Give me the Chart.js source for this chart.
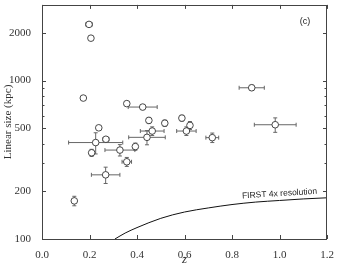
<!DOCTYPE html>
<html>
<head>
<meta charset="utf-8">
<script src="https://cdn.jsdelivr.net/npm/chart.js@4/dist/chart.umd.min.js"></script>
<style>
  html, body { margin: 0; padding: 0; background: #fff; }
  canvas { display: block; }
</style>
</head>
<body>
<canvas id="sizeChart" width="338" height="270"></canvas>
<script>
// Sources: redshift, linear size (kpc) and their errors
const redshift = [0.198, 0.206, 0.174, 0.357, 0.424, 0.239, 0.450, 0.517, 0.464, 0.883, 0.982, 0.589,
                  0.623, 0.608, 0.717, 0.226, 0.269, 0.209, 0.328, 0.393, 0.357, 0.268, 0.136, 0.442];
const linearSize = [2260, 1850, 775, 715, 680, 503, 560, 538, 480, 900, 526, 579,
                    521, 480, 436, 406, 426, 350, 364, 383, 307, 254, 174, 438];
const redshiftErr = [0.014, 0, 0, 0, 0.061, 0, 0, 0, 0.05, 0.053, 0.088, 0,
                     0, 0.041, 0.027, 0.114, 0.013, 0.008, 0.063, 0, 0.02, 0.06, 0, 0.077];
const sizeErr = [0, 0, 0, 0, 25, 0, 25, 25, 30, 35, 55, 25,
                 30, 30, 30, 62, 0, 18, 30, 20, 20, 30, 12, 45];

// FIRST 4x resolution limit curve
const limitZ = [0.307, 0.35, 0.4, 0.5, 0.6, 0.7, 0.8, 0.9, 1.0, 1.1, 1.2];
const limitSize = [100, 109, 118, 135, 148, 157, 165, 171, 175, 179, 182];

// Axis ticks
const xTicks = [0, 0.2, 0.4, 0.6, 0.8, 1.0, 1.2];
const yTicks = [100, 200, 300, 400, 500, 600, 700, 800, 900, 1000, 2000, 3000];
const yLabelled = [100, 200, 500, 1000, 2000];

const serif = "'Liberation Serif', 'DejaVu Serif', serif";
const sans = "'Liberation Sans', 'DejaVu Sans', sans-serif";

// error bars under the points
const errorBars = {
  id: "errorBars",
  beforeDatasetsDraw(chart) {
    const { ctx, scales: { x, y } } = chart;
    ctx.save();
    ctx.strokeStyle = "#666";
    ctx.lineWidth = 1;
    const cap = 2;
    redshift.forEach((z, i) => {
      const cx = x.getPixelForValue(z);
      const cy = y.getPixelForValue(linearSize[i]);
      ctx.beginPath();
      if (redshiftErr[i] > 0) {
        const x1 = x.getPixelForValue(z - redshiftErr[i]);
        const x2 = x.getPixelForValue(z + redshiftErr[i]);
        ctx.moveTo(x1, cy); ctx.lineTo(x2, cy);
        ctx.moveTo(x1, cy - cap); ctx.lineTo(x1, cy + cap);
        ctx.moveTo(x2, cy - cap); ctx.lineTo(x2, cy + cap);
      }
      if (sizeErr[i] > 0) {
        const y1 = y.getPixelForValue(linearSize[i] - sizeErr[i]);
        const y2 = y.getPixelForValue(linearSize[i] + sizeErr[i]);
        ctx.moveTo(cx, y1); ctx.lineTo(cx, y2);
        ctx.moveTo(cx - cap, y1); ctx.lineTo(cx + cap, y1);
        ctx.moveTo(cx - cap, y2); ctx.lineTo(cx + cap, y2);
      }
      ctx.stroke();
    });
    ctx.restore();
  }
};

// box, inward ticks and the text labels
const frame = {
  id: "frame",
  afterDraw(chart) {
    const { ctx, chartArea: a, scales: { x, y } } = chart;
    ctx.save();
    ctx.strokeStyle = "#444";
    ctx.lineWidth = 1;
    ctx.beginPath();
    xTicks.forEach(v => {
      const px = Math.round(x.getPixelForValue(v)) + 0.5;
      ctx.moveTo(px, a.bottom); ctx.lineTo(px, a.bottom - 4);
      ctx.moveTo(px, a.top); ctx.lineTo(px, a.top + 4);
    });
    yTicks.forEach(v => {
      const py = Math.round(y.getPixelForValue(v)) + 0.5;
      const len = yLabelled.includes(v) ? 4 : 2.5;
      ctx.moveTo(a.left, py); ctx.lineTo(a.left + len, py);
      ctx.moveTo(a.right, py); ctx.lineTo(a.right - len, py);
    });
    ctx.stroke();
    ctx.strokeRect(Math.round(a.left) + 0.5, Math.round(a.top) + 0.5,
                   Math.round(a.right - a.left) - 1, Math.round(a.bottom - a.top));

    ctx.fillStyle = "#222";
    ctx.font = "9px " + sans;
    ctx.textAlign = "center";
    ctx.textBaseline = "middle";
    ctx.fillText("(c)", x.getPixelForValue(1.107), y.getPixelForValue(2340));

    ctx.translate(x.getPixelForValue(1.0), y.getPixelForValue(193));
    ctx.rotate(-3.5 * Math.PI / 180);
    ctx.font = "8.5px " + sans;
    ctx.fillText("FIRST 4x resolution", 0, 0);
    ctx.restore();
  }
};

const points = redshift.map((z, i) => ({ x: z, y: linearSize[i] }));
const limitCurve = limitZ.map((z, i) => ({ x: z, y: limitSize[i] }));

new Chart(document.getElementById("sizeChart").getContext("2d"), {
  type: "scatter",
  data: {
    datasets: [
      {
        data: points,
        pointRadius: 3.3,
        pointBackgroundColor: "#fff",
        pointBorderColor: "#333",
        pointBorderWidth: 0.9
      },
      {
        type: "line",
        data: limitCurve,
        borderColor: "#111",
        borderWidth: 1,
        pointRadius: 0,
        cubicInterpolationMode: "monotone",
        fill: false
      }
    ]
  },
  options: {
    responsive: false,
    animation: false,
    devicePixelRatio: 1,
    layout: { padding: { top: 3, right: 11, left: 0, bottom: 0 } },
    plugins: { legend: { display: false }, tooltip: { enabled: false } },
    scales: {
      x: {
        type: "linear",
        min: 0,
        max: 1.2,
        grid: { display: false },
        border: { display: false },
        afterBuildTicks: s => { s.ticks = xTicks.map(v => ({ value: v })); },
        afterFit: s => { s.height = 31; s.paddingLeft = 0; s.paddingRight = 0; },
        ticks: {
          padding: 2,
          color: "#333",
          font: { family: serif, size: 11 },
          callback: v => v.toFixed(1)
        },
        title: {
          display: true,
          text: "z",
          color: "#333",
          padding: { top: 0, bottom: 3 },
          font: { family: serif, size: 13, style: "italic" }
        }
      },
      y: {
        type: "logarithmic",
        min: 100,
        max: 3000,
        grid: { display: false },
        border: { display: false },
        afterBuildTicks: s => { s.ticks = yTicks.map(v => ({ value: v })); },
        afterFit: s => { s.width = 42; s.paddingTop = 0; s.paddingBottom = 0; },
        ticks: {
          padding: 3,
          autoSkip: false,
          color: "#333",
          font: { family: serif, size: 11 },
          callback: v => (yLabelled.includes(v) ? String(v) : "")
        },
        title: {
          display: true,
          text: "Linear size (kpc)",
          color: "#333",
          padding: { top: 2, bottom: 0 },
          font: { family: serif, size: 11 }
        }
      }
    }
  },
  plugins: [errorBars, frame]
});
</script>
</body>
</html>
